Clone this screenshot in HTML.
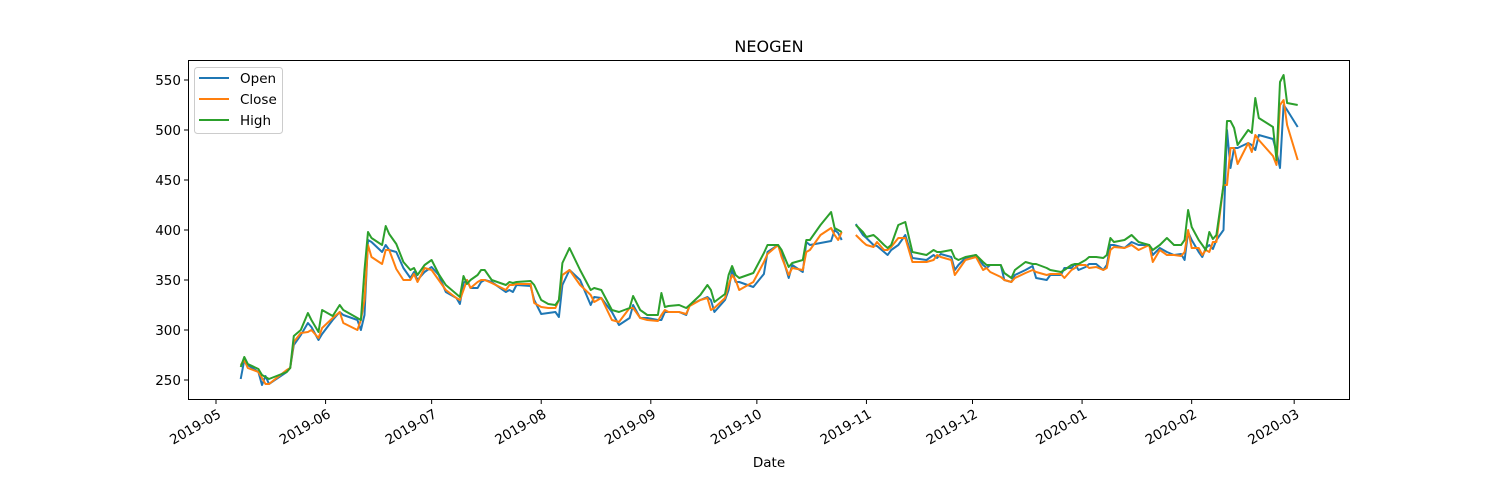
<!DOCTYPE html>
<html><head><meta charset="utf-8"><style>
html,body{margin:0;padding:0;background:#fff}
svg{display:block;font-family:"DejaVu Sans","Liberation Sans",sans-serif}
</style></head><body>
<svg id="chart" width="1500" height="500" viewBox="0 0 1500 500">
<rect x="0" y="0" width="1500" height="500" fill="#fff"/>
<text x="769" y="52" text-anchor="middle" font-size="16" fill="#000">NEOGEN</text>
<g id="plot"></g>
<text x="769" y="467" text-anchor="middle" font-size="13.5" fill="#000">Date</text>
<g>
<rect x="194.5" y="67.5" width="88" height="66" rx="3" fill="#fff" fill-opacity="0.8" stroke="#ccc"/>
<g><line x1="199" y1="78" x2="229" y2="78" stroke="#1f77b4" stroke-width="2"/><text x="240" y="83" font-size="13.5">Open</text></g>
<g><line x1="199" y1="99" x2="229" y2="99" stroke="#ff7f0e" stroke-width="2"/><text x="240" y="104" font-size="13.5">Close</text></g>
<g><line x1="199" y1="120" x2="229" y2="120" stroke="#2ca02c" stroke-width="2"/><text x="240" y="125" font-size="13.5">High</text></g>
</g>
</svg>
<script>
// days since 2019-05-01 (null = gap)
const days = [7,8,9,12,13,14,15,20,21,22,24,26,27,29,30,33,35,36,40,41,42,43,44,47,48,49,51,53,55,56,57,59,61,63,65,68,69,70,71,72,74,75,76,78,82,83,84,85,89,90,92,94,96,97,98,100,103,106,107,109,112,114,117,118,120,122,125,126,127,128,131,133,134,137,139,140,141,144,145,146,147,148,152,155,156,159,160,162,163,166,167,168,171,174,175,176,177,null,181,183,184,186,187,189,190,191,193,195,197,201,203,204,205,208,209,210,212,215,217,218,219,222,223,225,226,229,231,232,235,236,239,240,242,243,244,246,247,249,251,252,253,254,257,259,261,264,265,267,269,271,273,274,275,276,278,279,280,281,282,283,285,286,287,288,289,292,293,294,295,299,300,301,302,303,306];
const openVals = [251,270,265,258,245,254,246,258,262,285,295,307,303,290,296,310,318,315,310,300,315,390,388,378,385,380,378,362,352,358,350,358,363,355,338,332,326,347,350,342,342,348,350,348,338,340,338,345,344,330,316,317,318,313,345,360,350,325,333,332,318,305,312,325,312,312,310,310,318,318,318,315,325,330,333,330,318,330,340,360,348,348,343,356,378,385,376,352,365,358,388,385,387,389,400,397,390,null,406,395,392,385,384,378,375,380,385,395,372,370,375,372,376,373,360,365,372,375,365,362,365,365,350,348,355,360,364,352,350,355,355,362,362,366,360,363,366,366,360,365,385,385,382,388,385,385,375,382,378,375,376,370,398,390,378,373,382,385,381,390,400,500,462,482,482,487,485,480,495,491,478,462,525,520,503];
const closeVals = [265,270,262,258,252,246,246,260,262,288,297,298,300,292,302,312,318,307,300,310,330,385,373,366,380,380,361,350,350,356,348,362,360,350,340,332,330,340,350,342,348,350,350,347,340,345,345,346,346,327,323,322,322,330,355,360,345,335,328,332,310,308,322,322,312,310,309,315,320,318,318,316,324,330,332,320,322,332,345,355,350,340,348,368,376,385,373,355,362,360,378,380,395,402,395,390,398,null,395,388,385,383,388,380,380,383,392,392,368,368,370,375,373,370,355,360,370,373,360,362,358,353,350,348,352,357,360,358,355,356,356,352,360,362,365,365,362,363,360,362,380,383,382,385,380,385,368,380,375,375,374,378,400,382,382,375,380,378,388,388,445,445,482,482,466,487,478,495,490,474,465,525,530,505,470];
const highVals = [263,273,266,261,255,253,251,258,262,294,300,317,310,298,320,314,325,320,312,310,360,398,392,385,404,396,386,368,360,362,355,365,370,356,345,336,333,354,346,350,355,360,360,350,345,348,347,348,349,345,330,326,325,330,367,382,360,340,342,340,320,318,322,334,320,315,315,337,323,324,325,322,325,335,345,340,328,336,355,364,355,352,357,377,385,385,380,363,367,370,390,390,405,418,402,400,398,null,405,398,393,395,392,385,382,385,405,408,378,375,380,378,378,380,372,370,373,375,368,365,365,365,357,352,360,368,366,366,362,360,358,360,365,366,366,370,373,373,372,375,392,388,390,395,388,385,380,385,392,385,385,390,420,403,390,385,380,398,391,395,445,509,509,502,485,500,497,532,512,503,470,548,555,527,525];
const yTicks = [250,300,350,400,450,500,550];
const xTickLabels = ["2019-05","2019-06","2019-07","2019-08","2019-09","2019-10","2019-11","2019-12","2020-01","2020-02","2020-03"];
const xTickDays = [0,31,61,92,123,153,184,214,245,276,305];

const L=188,R=1350,T=60,B=400;
const xs = d => 216 + d*3.535;
const ys = v => 630 - v;
const ns="http://www.w3.org/2000/svg";
const plot=document.getElementById('plot');
function mk(tag,attrs){const e=document.createElementNS(ns,tag);for(const k in attrs)e.setAttribute(k,attrs[k]);plot.appendChild(e);return e;}

const series=[["open-line",openVals,"#1f77b4"],["close-line",closeVals,"#ff7f0e"],["high-line",highVals,"#2ca02c"]];
series.forEach(([name,vals,col])=>{
  let d="",pen=false;
  for(let i=0;i<days.length;i++){
    if(days[i]===null||vals[i]===null){pen=false;continue;}
    d+=(pen?"L":"M")+xs(days[i]).toFixed(1)+","+ys(vals[i]).toFixed(1);
    pen=true;
  }
  const p=mk('path',{d:d,fill:"none",stroke:col,"stroke-width":"2","stroke-linejoin":"round"});
  
  
});

const frame=mk('rect',{x:L+0.5,y:T+0.5,width:R-L-1,height:B-T-1,fill:"none",stroke:"#000","stroke-width":"1"});



yTicks.forEach(v=>{
  const y=ys(v);
  const t=mk('line',{x1:L-4,y1:y,x2:L,y2:y,stroke:"#000"});
  
  
  const lb=mk('text',{x:L-7,y:y+5,"text-anchor":"end","font-size":"13.5"});
  lb.textContent=v;
  
  
});
xTickLabels.forEach((s,i)=>{
  const x=xs(xTickDays[i]);
  const t=mk('line',{x1:x,y1:B,x2:x,y2:B+4,stroke:"#000"});
  
  
  const lb=mk('text',{transform:`translate(${x+1},${B+8}) rotate(-30)`,"text-anchor":"end","font-size":"13.5",dy:"10"});
  lb.textContent=s;
  
  
});
</script>
</body></html>
